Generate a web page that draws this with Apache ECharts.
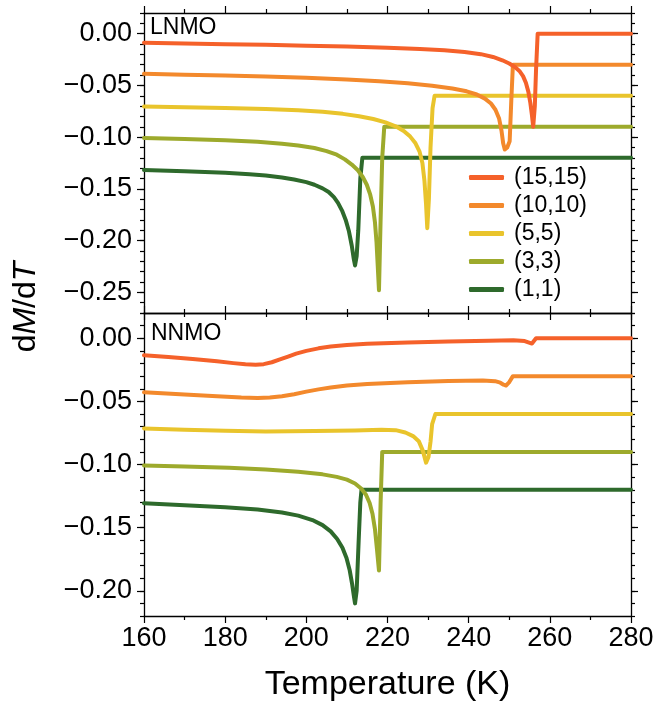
<!DOCTYPE html>
<html><head><meta charset="utf-8">
<script src="https://cdn.jsdelivr.net/npm/echarts@6/dist/echarts.min.js"></script>
<style>html,body{margin:0;padding:0;background:#fff}#c{width:657px;height:710px}</style>
</head><body><div id="c"></div>
<script>
// ---------------- data ----------------
const SERIES_NAMES = ['(15,15)', '(10,10)', '(5,5)', '(3,3)', '(1,1)'];
const COLORS = ['#F5612A', '#F3892C', '#E9C42C', '#9DAA2C', '#2E6A2C'];
const PANEL_LABELS = ['LNMO', 'NNMO'];
const X_RANGE = [160, 280];
const X_INTERVAL = 20;
const LNMO_Y_RANGE = [-0.27, 0.02];
const NNMO_Y_RANGE = [-0.22, 0.02];
const LNMO_Y_MAJOR = [0, -0.05, -0.10, -0.15, -0.20, -0.25];
const NNMO_Y_MAJOR = [0, -0.05, -0.10, -0.15, -0.20];

// LNMO panel: [T (K), dM/dT]
const LNMO_15 = [[160,-0.0087],[170,-0.0094],[180,-0.0101],[190,-0.0108],[200,-0.0116],[210,-0.0125],[220,-0.0137],[228,-0.0149],[234,-0.0161],[239,-0.0177],[243,-0.0198],[246,-0.0225],[248.3,-0.0257],[250,-0.0288],[251.4,-0.0322],[252.5,-0.0360],[253.4,-0.0410],[254.1,-0.0475],[254.7,-0.0560],[255.2,-0.0670],[255.6,-0.0790],[255.9,-0.0900],[256.3,-0.070],[256.6,-0.035],[257.0,0],[280,0]];
const LNMO_10 = [[160,-0.0388],[170,-0.0396],[180,-0.0404],[190,-0.0414],[200,-0.0426],[210,-0.0442],[218,-0.0460],[225,-0.0480],[231,-0.0503],[236,-0.0530],[239.5,-0.0557],[242,-0.0588],[244,-0.0628],[245.5,-0.0675],[246.6,-0.0735],[247.5,-0.0820],[248.1,-0.0940],[248.5,-0.1060],[248.9,-0.1120],[249.5,-0.110],[250.1,-0.104],[250.5,-0.065],[250.9,-0.030],[280,-0.030]];
const LNMO_5 = [[160,-0.0704],[170,-0.0711],[180,-0.0719],[190,-0.0729],[198,-0.0740],[204,-0.0755],[209,-0.0775],[213,-0.0798],[216.5,-0.0825],[219.5,-0.0857],[222,-0.0895],[224,-0.0940],[225.6,-0.0995],[226.9,-0.1060],[227.9,-0.1140],[228.6,-0.1250],[229.1,-0.1420],[229.5,-0.1650],[229.8,-0.1880],[230.2,-0.16],[230.6,-0.11],[231.1,-0.072],[231.6,-0.060],[280,-0.060]];
const LNMO_3 = [[160,-0.1008],[170,-0.1018],[180,-0.1030],[188,-0.1045],[194,-0.1063],[198,-0.1080],[202,-0.1105],[205,-0.1135],[207.5,-0.1170],[209.5,-0.1215],[211.2,-0.1265],[212.7,-0.1320],[213.9,-0.1385],[214.9,-0.1460],[215.7,-0.1550],[216.4,-0.1670],[216.9,-0.1820],[217.3,-0.2020],[217.6,-0.2250],[217.9,-0.2480],[218.3,-0.18],[218.7,-0.12],[219.2,-0.090],[280,-0.090]];
const LNMO_1 = [[160,-0.1318],[170,-0.1330],[180,-0.1345],[186,-0.1358],[190,-0.1370],[194,-0.1390],[197,-0.1410],[200,-0.1435],[202,-0.1460],[204,-0.1495],[205.5,-0.1530],[206.8,-0.1580],[207.8,-0.1635],[208.8,-0.1710],[209.7,-0.1800],[210.5,-0.1910],[211.2,-0.2050],[211.7,-0.2180],[212.0,-0.2240],[212.4,-0.2150],[212.8,-0.19],[213.3,-0.14],[213.8,-0.120],[280,-0.120]];

// NNMO panel
const NNMO_15 = [[160,-0.0134],[166,-0.0148],[172,-0.0164],[178,-0.0183],[182,-0.0197],[185,-0.0206],[187.5,-0.0210],[189.5,-0.0205],[191.5,-0.0190],[193.5,-0.0168],[195.5,-0.0145],[197.5,-0.0122],[200,-0.0100],[203,-0.0080],[206,-0.0066],[210,-0.0053],[215,-0.0043],[225,-0.0033],[235,-0.0026],[245,-0.0019],[251,-0.0016],[253.8,-0.0022],[255.6,-0.0042],[256.6,0],[280,0]];
const NNMO_10 = [[160,-0.0428],[170,-0.0446],[178,-0.0460],[184,-0.0470],[188,-0.0473],[191,-0.0470],[194,-0.0460],[197,-0.0443],[200,-0.0423],[203,-0.0405],[206,-0.0390],[210,-0.0374],[215,-0.0362],[225,-0.0348],[235,-0.0339],[243.5,-0.0334],[246.5,-0.0340],[247.8,-0.0352],[248.6,-0.0368],[249.2,-0.0374],[249.9,-0.0352],[250.9,-0.030],[280,-0.030]];
const NNMO_5 = [[160,-0.0714],[170,-0.0725],[180,-0.0733],[190,-0.0738],[202,-0.0735],[212,-0.073],[218.5,-0.0724],[222,-0.0728],[224.4,-0.0746],[226.3,-0.0775],[227.7,-0.0815],[228.7,-0.089],[229.5,-0.0985],[230.1,-0.094],[230.6,-0.082],[231,-0.068],[231.8,-0.060],[280,-0.060]];
const NNMO_3 = [[160,-0.1008],[170,-0.1015],[181,-0.1026],[190,-0.1040],[198,-0.1058],[204,-0.1078],[207.5,-0.1098],[210,-0.1120],[212,-0.1150],[213.5,-0.1190],[214.7,-0.1240],[215.6,-0.1305],[216.3,-0.1390],[216.9,-0.1510],[217.4,-0.1670],[217.9,-0.1840],[218.3,-0.13],[218.7,-0.090],[280,-0.090]];
const NNMO_1 = [[160,-0.1307],[170,-0.1322],[180,-0.1338],[188,-0.1357],[194,-0.1380],[198,-0.1405],[201.5,-0.1440],[204,-0.1480],[206,-0.1530],[207.6,-0.1590],[208.9,-0.1660],[209.9,-0.1740],[210.7,-0.1840],[211.3,-0.1950],[211.7,-0.2040],[212.0,-0.2100],[212.4,-0.2000],[212.9,-0.16],[213.3,-0.13],[213.6,-0.120],[280,-0.120]];

const PANELS = [
  [LNMO_15, LNMO_10, LNMO_5, LNMO_3, LNMO_1],
  [NNMO_15, NNMO_10, NNMO_5, NNMO_3, NNMO_1]
];

// ---------------- chart ----------------
const FONT = '"Liberation Sans", Arial, Helvetica, sans-serif';
const BLACK = '#000';
const ranges = [LNMO_Y_RANGE, NNMO_Y_RANGE];
const majors = [LNMO_Y_MAJOR, NNMO_Y_MAJOR];

function minorList(r) {
  const out = [];
  for (let k = Math.round(r[0] * 100); k <= Math.round(r[1] * 100); k++) out.push(k / 100);
  return out;
}
function fmtY(v) {
  const s = Math.abs(v).toFixed(2);
  return (v < -1e-9 ? '\u2212' : '') + s;
}

const grids = [
  { left: 144, right: 26, top: 13, height: 300 },
  { left: 144, right: 26, top: 313, height: 303 }
];

const xAxes = [];
const yAxes = [];
for (let g = 0; g < 2; g++) {
  ['bottom', 'top'].forEach(function (pos) {
    const isLabel = (g === 1 && pos === 'bottom');
    xAxes.push({
      type: 'value', gridIndex: g, position: pos,
      min: X_RANGE[0], max: X_RANGE[1], interval: X_INTERVAL,
      splitLine: { show: false },
      axisLine: { show: true, onZero: false, lineStyle: { color: BLACK, width: 1.3 } },
      axisTick: { show: true, inside: false, length: 7, lineStyle: { color: BLACK, width: 1.2 } },
      minorTick: { show: true, splitNumber: 2, length: 4, lineStyle: { color: BLACK, width: 1.2 } },
      axisLabel: { show: isLabel, fontSize: 27, color: BLACK, fontFamily: FONT, margin: 9 },
      name: isLabel ? 'Temperature (K)' : '',
      nameLocation: 'middle', nameGap: 52,
      nameTextStyle: { fontSize: 34, color: BLACK, fontFamily: FONT }
    });
  });
  ['left', 'right'].forEach(function (pos) {
    [true, false].forEach(function (major) {
      yAxes.push({
        type: 'value', gridIndex: g, position: pos,
        min: ranges[g][0], max: ranges[g][1],
        splitLine: { show: false },
        axisLine: { show: major, onZero: false, lineStyle: { color: BLACK, width: 1.3 } },
        axisTick: { show: true, inside: false, length: major ? 7 : 4,
          customValues: major ? majors[g] : minorList(ranges[g]),
          lineStyle: { color: BLACK, width: 1.2 } },
        axisLabel: { show: major && pos === 'left', customValues: majors[g], formatter: fmtY,
          fontSize: 27, color: BLACK, fontFamily: FONT, margin: 12 }
      });
    });
  });
}

const series = [];
for (let g = 0; g < 2; g++) {
  for (let i = SERIES_NAMES.length - 1; i >= 0; i--) {
    series.push({
      type: 'line', name: SERIES_NAMES[i], data: PANELS[g][i],
      xAxisIndex: 2 * g, yAxisIndex: 4 * g,
      symbol: 'none', smooth: false, animation: false,
      lineStyle: { width: 4, color: COLORS[i], cap: 'round', join: 'round' },
      itemStyle: { color: COLORS[i] }
    });
  }
}

const chart = echarts.init(document.getElementById('c'), null, { renderer: 'canvas' });
chart.setOption({
  backgroundColor: '#fff',
  animation: false,
  grid: grids.map(function (g) { return Object.assign({ outerBoundsMode: 'none' }, g); }),
  xAxis: xAxes,
  yAxis: yAxes,
  legend: {
    orient: 'vertical', left: 469, top: 166, padding: 0, itemGap: 5,
    itemWidth: 35, itemHeight: 5, icon: 'roundRect', selectedMode: false,
    data: SERIES_NAMES,
    textStyle: { fontSize: 23, lineHeight: 23, color: BLACK, fontFamily: FONT, padding: [0, 0, 0, 5] }
  },
  graphic: [
    { type: 'text', x: 150, y: 28, style: { text: PANEL_LABELS[0], fontSize: 23, fontFamily: FONT, fill: BLACK, align: 'left', verticalAlign: 'middle' } },
    { type: 'text', x: 151, y: 334, style: { text: PANEL_LABELS[1], fontSize: 23, fontFamily: FONT, fill: BLACK, align: 'left', verticalAlign: 'middle' } },
    { type: 'text', x: 26, y: 307, rotation: Math.PI / 2,
      style: { text: '{n|d}{i|M}{n|/d}{i|T}', align: 'center', verticalAlign: 'middle', fill: BLACK,
        rich: { n: { fontSize: 32, fontFamily: FONT, fill: BLACK }, i: { fontSize: 32, fontFamily: FONT, fontStyle: 'italic', fill: BLACK } } } }
  ],
  series: series
});
</script>
</body></html>
